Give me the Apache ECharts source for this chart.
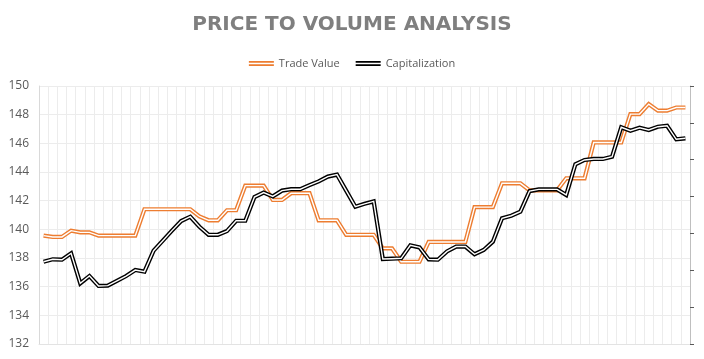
<!DOCTYPE html>
<html>
<head>
<meta charset="utf-8">
<script src="https://cdn.jsdelivr.net/npm/echarts@6/dist/echarts.min.js"></script>
<style>
html,body{margin:0;padding:0;background:#fff;}
#chart{width:704px;height:359px;}
</style>
</head>
<body>
<div id="chart"></div>
<script>
var categories = ['1','2','3','4','5','6','7','8','9','10','11','12','13','14','15','16','17','18','19','20','21','22','23','24','25','26','27','28','29','30','31','32','33','34','35','36','37','38','39','40','41','42','43','44','45','46','47','48','49','50','51','52','53','54','55','56','57','58','59','60','61','62','63','64','65','66','67','68','69','70','71'];

var tradeValue = [139.56,139.47,139.47,139.91,139.79,139.79,139.56,139.56,139.56,139.56,139.56,
  141.4,141.4,141.4,141.4,141.4,141.4,140.9,140.63,140.63,141.33,141.33,143.05,143.05,143.05,
  142.05,142.05,142.52,142.52,142.52,140.63,140.63,140.63,139.62,139.62,139.62,139.62,138.67,138.67,
  137.74,137.74,137.74,139.12,139.12,139.12,139.12,139.12,141.55,141.55,141.55,143.21,143.21,143.21,
  142.72,142.72,142.72,142.72,143.56,143.56,143.56,146.06,146.06,146.06,146.06,148.04,148.04,148.74,
  148.28,148.28,148.5,148.5];

var capitalization = [137.74,137.91,137.88,138.33,136.23,136.74,136.05,136.07,136.4,136.74,137.16,
  137.05,138.51,139.21,139.91,140.58,140.88,140.18,139.62,139.62,139.88,140.6,140.6,142.25,142.56,
  142.3,142.7,142.8,142.8,143.08,143.35,143.68,143.82,142.7,141.58,141.78,141.95,137.93,137.95,
  137.98,138.88,138.74,137.9,137.88,138.46,138.8,138.8,138.26,138.56,139.14,140.77,140.95,141.23,
  142.67,142.79,142.79,142.79,142.4,144.54,144.84,144.91,144.91,145.07,147.12,146.88,147.09,146.93,
  147.16,147.23,146.28,146.35];

var yTicks = [132,134,136,138,140,142,144,146,148,150];

var ORANGE = '#ed7d31';
var BLACK = '#000000';
var dblIcon = 'path://M0,0H30V2H0Z M0,4H30V6H0Z';

function outer(name, data, color) {
  return {
    name: name, type: 'line', data: data, symbol: 'none', yAxisIndex: 0,
    lineStyle: { color: color, width: 4.2, join: 'miter' },
    itemStyle: { color: color },
    emphasis: { disabled: true }, animation: false
  };
}
function inner(name, data) {
  return {
    name: name, type: 'line', data: data, symbol: 'none', yAxisIndex: 0,
    lineStyle: { color: '#ffffff', width: 1.4, join: 'miter' },
    itemStyle: { color: '#ffffff' },
    emphasis: { disabled: true }, animation: false
  };
}

var chart = echarts.init(document.getElementById('chart'), null, { renderer: 'canvas' });
chart.setOption({
  backgroundColor: '#ffffff',
  animation: false,
  title: {
    text: 'PRICE TO VOLUME ANALYSIS',
    left: 'center', top: 10,
    textStyle: { color: '#7f7f7f', fontSize: 20, fontWeight: 'bold', fontFamily: 'DejaVu Sans' }
  },
  legend: {
    top: 53, left: 'center',
    itemWidth: 25, itemHeight: 5, itemGap: 16,
    textStyle: { color: '#595959', fontSize: 11, fontFamily: 'Open Sans' },
    data: [
      { name: 'Trade Value', icon: dblIcon, itemStyle: { color: ORANGE } },
      { name: 'Capitalization', icon: dblIcon, itemStyle: { color: BLACK } }
    ]
  },
  grid: { left: 39, right: 14, top: 86, bottom: 15, containLabel: false },
  xAxis: {
    type: 'category', data: categories, boundaryGap: true,
    axisLine: { show: true, lineStyle: { color: '#e3e3e3' } },
    axisTick: { show: false },
    axisLabel: { show: false },
    splitLine: { show: true, interval: 0, lineStyle: { color: '#ececec', width: 1 } }
  },
  yAxis: [
    {
      type: 'value', min: yTicks[0], max: yTicks[yTicks.length - 1], interval: 2,
      axisLine: { show: true, lineStyle: { color: '#d9d9d9' } },
      axisTick: { show: false },
      axisLabel: { color: '#595959', fontSize: 12, fontFamily: 'Open Sans', margin: 10 },
      splitLine: { show: true, lineStyle: { color: '#ececec' } }
    },
    {
      type: 'value', min: 0, max: 7, interval: 1, position: 'right',
      axisLine: { show: true, lineStyle: { color: '#bfbfbf' } },
      axisTick: { show: true, inside: false, length: 4, lineStyle: { color: '#595959' } },
      axisLabel: { show: false },
      splitLine: { show: false }
    }
  ],
  series: [
    outer('Trade Value', tradeValue, ORANGE),
    inner('Trade Value inner', tradeValue),
    outer('Capitalization', capitalization, BLACK),
    inner('Capitalization inner', capitalization)
  ]
});
</script>
</body>
</html>
